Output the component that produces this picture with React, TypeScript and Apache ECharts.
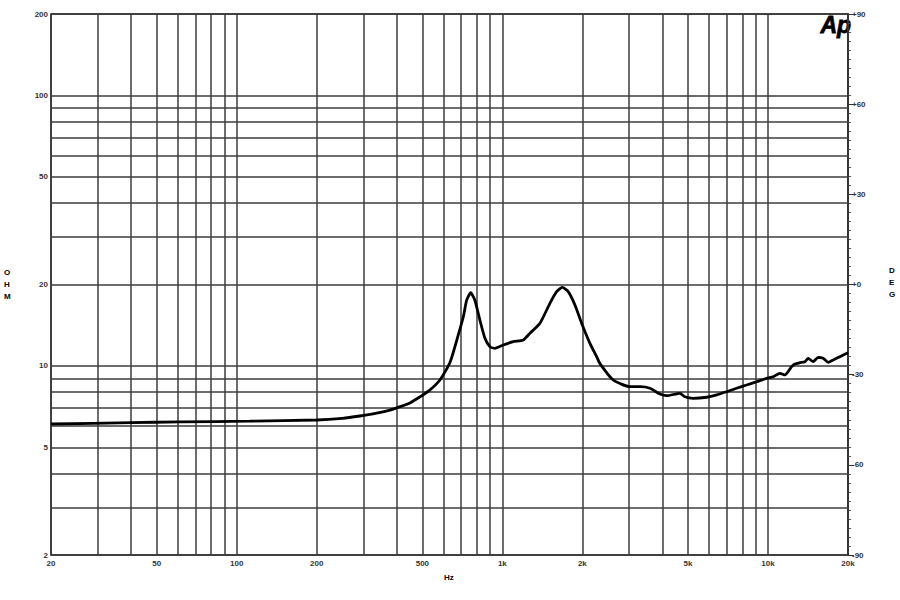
import React, { useEffect, useRef } from "react";
import * as echarts from "echarts";

const freqHz = [20, 40, 61, 112, 200, 250, 291, 340, 378, 412, 449, 490, 530, 582, 635, 682, 713, 734, 760, 788, 823, 860, 898, 938, 1008, 1099, 1199, 1270, 1385, 1510, 1601, 1682, 1770, 1876, 1988, 2136, 2264, 2330, 2614, 3022, 3296, 3594, 3919, 4153, 4658, 4866, 5230, 5875, 6406, 6984, 7617, 8304, 9057, 9878, 10460, 11085, 11577, 12268, 12622, 13184, 13768, 14168, 14794, 15448, 16135, 16848, 17594, 18644, 20000];
const impedanceOhm = [6.1, 6.17, 6.21, 6.25, 6.31, 6.4, 6.53, 6.7, 6.87, 7.07, 7.3, 7.69, 8.1, 8.87, 10.3, 13.0, 15.2, 17.5, 18.65, 17.5, 14.78, 12.65, 11.78, 11.62, 11.95, 12.29, 12.47, 13.2, 14.38, 17.04, 18.82, 19.53, 18.82, 16.8, 14.38, 12.12, 10.82, 10.2, 8.87, 8.38, 8.38, 8.27, 7.87, 7.76, 7.92, 7.69, 7.59, 7.66, 7.81, 8.03, 8.27, 8.5, 8.74, 9.0, 9.12, 9.39, 9.26, 9.94, 10.16, 10.28, 10.37, 10.67, 10.37, 10.76, 10.67, 10.31, 10.52, 10.82, 11.19];

const xGridValues = [20, 30, 40, 50, 60, 70, 80, 90, 100, 200, 300, 400, 500, 600, 700, 800, 900, 1000, 2000, 3000, 4000, 5000, 6000, 7000, 8000, 9000, 10000, 20000];
const xTickLabels: Record<number, string> = { 20: "20", 50: "50", 100: "100", 200: "200", 500: "500", 1000: "1k", 2000: "2k", 5000: "5k", 10000: "10k", 20000: "20k" };
const yGridValues = [2, 3, 4, 5, 6, 7, 8, 9, 10, 20, 30, 40, 50, 60, 70, 80, 90, 100, 200];
const yTickLabels: Record<number, string> = { 2: "2", 5: "5", 10: "10", 20: "20", 50: "50", 100: "100", 200: "200" };

const LINE = "#3c3c3c";
const FONT = "Liberation Sans";

export default function App() {
  const ref = useRef<HTMLDivElement>(null);
  useEffect(() => {
    if (!ref.current) return;
    const chart = echarts.init(ref.current, undefined, { renderer: "svg" });
    const labelStyle = { color: "#333", fontSize: 8, fontFamily: FONT, fontWeight: "bold" as const };
    const markData: any[] = [];
    xGridValues.forEach((v) => {
      const lab = xTickLabels[v];
      markData.push({
        xAxis: v,
        label: lab
          ? { show: true, position: "start", formatter: lab, distance: 4, ...labelStyle }
          : { show: false },
      });
    });
    yGridValues.forEach((v) => {
      const lab = yTickLabels[v];
      markData.push({
        yAxis: v,
        label: lab
          ? { show: true, position: "start", formatter: lab, distance: 3, ...labelStyle }
          : { show: false },
      });
    });
    chart.setOption({
      animation: false,
      backgroundColor: "#fff",
      grid: { left: 51, right: 52, top: 14, bottom: 45, show: true, borderColor: "#111", borderWidth: 1.5, backgroundColor: "transparent" },
      xAxis: {
        type: "log",
        logBase: 10,
        min: 20,
        max: 20000,
        axisLabel: { show: false },
        axisTick: { show: false },
        axisLine: { show: false },
        splitLine: { show: false },
      },
      yAxis: [
        {
          type: "log",
          logBase: 10,
          min: 2,
          max: 200,
          axisLabel: { show: false },
          axisTick: { show: false },
          axisLine: { show: false },
          splitLine: { show: false },
        },
        {
          type: "value",
          position: "right",
          min: -90,
          max: 90,
          interval: 30,
          axisLine: { show: true, lineStyle: { color: "#111", width: 1.5 } },
          axisTick: { show: true, length: 6, inside: false, lineStyle: { color: "#333" } },
          minorTick: { show: true, splitNumber: 10, length: 3, lineStyle: { color: "#555" } },
          axisLabel: {
            ...labelStyle,
            margin: 4,
            formatter: (v: number) => (v >= 0 ? "+" + v : String(v)),
          },
          splitLine: { show: false },
        },
      ],
      graphic: [
        { type: "text", left: 444, top: 573, style: { text: "Hz", ...labelStyle } },
        { type: "text", left: 4, top: 266, style: { text: "O\nH\nM", lineHeight: 12, ...labelStyle } },
        { type: "text", left: 889, top: 264, style: { text: "D\nE\nG", lineHeight: 12, ...labelStyle } },
        { type: "text", left: 820, top: 13, style: { text: "Ap", fill: "#000", fontSize: 23, fontStyle: "italic", fontWeight: "bold", fontFamily: FONT, stroke: "#000", lineWidth: 0.8 } },
      ],
      series: [
        {
          type: "line",
          xAxisIndex: 0,
          yAxisIndex: 0,
          data: freqHz.map((f, i) => [f, impedanceOhm[i]]),
          showSymbol: false,
          smooth: 0.2,
          lineStyle: { color: "#000", width: 2.8 },
          z: 5,
          markLine: {
            silent: true,
            symbol: ["none", "none"],
            lineStyle: { color: LINE, width: 1.5, type: "solid" },
            data: markData,
            z: 1,
          },
        },
      ],
    });
    return () => chart.dispose();
  }, []);
  return <div ref={ref} style={{ position: "absolute", left: 0, top: 0, width: 900, height: 600 }} />;
}
